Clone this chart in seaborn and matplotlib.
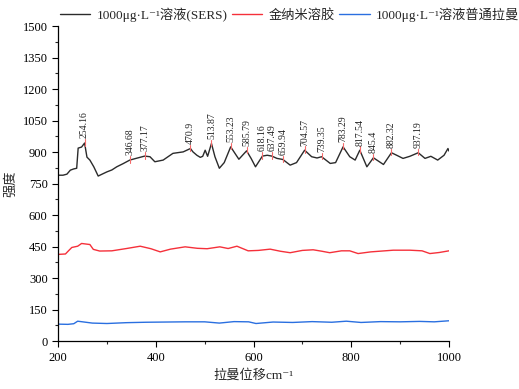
import pandas as pd
import numpy as np
import seaborn as sns
import matplotlib.pyplot as plt

# 数据
sers_x = [200, 210, 218, 225, 232, 238, 241, 248, 254.16, 259, 265, 273, 282, 290, 300, 310, 320, 333,
          346.68, 361, 377.17, 388, 398, 415, 435, 456, 470.9, 476, 484, 491, 496, 501, 506, 513.87, 521,
          530, 540, 553.23, 562, 570, 585.79, 595, 604, 618.16, 628, 637.49, 648, 659.94, 675, 688,
          704.57, 719, 730, 739.35, 757, 768, 783.29, 797, 808, 817.54, 832, 845.4, 866, 882.32, 893,
          906, 920, 937.19, 951, 963, 977, 990, 998, 1000]
sers_y = [790, 790, 795, 814, 820, 823, 919, 924, 943, 876, 862, 830, 786, 795, 806, 815, 830, 845,
          862, 871, 881, 878, 854, 862, 894, 901, 917, 901, 885, 875, 880, 909, 880, 941, 878,
          823, 850, 925, 894, 866, 906, 870, 830, 881, 885, 881, 870, 865, 838, 850,
          909, 878, 872, 878, 846, 850, 925, 878, 862, 909, 830, 873, 841, 897, 885,
          870, 880, 897, 870, 880, 862, 885, 917, 905]

gold_x = [200, 215, 222, 228, 240, 248, 265, 272, 285, 310, 340, 368, 390, 409, 430, 460, 485, 505,
          531, 548, 566, 589, 610, 634, 655, 675, 700, 722, 740, 756, 780, 797, 814, 840, 886, 920,
          945, 961, 980, 1000]
gold_y = [413, 415, 432, 446, 452, 465, 460, 437, 429, 430, 441, 452, 440, 425, 438, 449, 442, 440,
          449, 441, 452, 430, 432, 438, 428, 421, 432, 435, 428, 421, 430, 430, 417, 425, 433, 433,
          430, 417, 422, 430]

raman_x = [200, 220, 232, 240, 250, 270, 300, 340, 380, 420, 460, 500, 530, 560, 590, 605, 640, 680,
           720, 760, 790, 820, 860, 900, 940, 970, 1000]
raman_y = [81, 80, 83, 95, 92, 86, 84, 88, 90, 91, 92, 92, 86, 93, 92, 84, 91, 89,
           93, 90, 95, 89, 93, 92, 94, 92, 97]

peak_x = [254.16, 346.68, 377.17, 470.9, 513.87, 553.23, 585.79, 618.16, 637.49, 659.94,
          704.57, 739.35, 783.29, 817.54, 845.4, 882.32, 937.19]
peak_y = [943, 862, 881, 917, 941, 925, 906, 881, 881, 865, 909, 878, 925, 909, 873, 897, 897]
peak_labels = ['254.16', '346.68', '377.17', '470.9', '513.87', '553.23', '585.79', '618.16',
               '637.49', '659.94', '704.57', '739.35', '783.29', '817.54', '845.4', '882.32', '937.19']

sns.set_theme(style="ticks")
plt.rcParams['font.family'] = ['Liberation Serif', 'Noto Sans CJK SC', 'DejaVu Serif']
plt.rcParams['axes.unicode_minus'] = False

fig = plt.figure(figsize=(5.19, 3.89), dpi=100)
ax = fig.add_axes([0.112, 0.123, 0.753, 0.81])

df1 = pd.DataFrame({'x': sers_x, 'y': sers_y})
df2 = pd.DataFrame({'x': gold_x, 'y': gold_y})
df3 = pd.DataFrame({'x': raman_x, 'y': raman_y})
sns.lineplot(data=df1, x='x', y='y', ax=ax, color='#2b2b2b', lw=1, label='1000μg·L⁻¹溶液(SERS)')
sns.lineplot(data=df2, x='x', y='y', ax=ax, color='#f5303a', lw=1, label='金纳米溶胶')
sns.lineplot(data=df3, x='x', y='y', ax=ax, color='#2a6fe0', lw=1, label='1000μg·L⁻¹溶液普通拉曼')

# 峰位标注
for px, py, lab in zip(peak_x, peak_y, peak_labels):
    ax.plot([px, px], [py - 12, py + 18], color='#f46a6a', lw=0.8)
    ax.text(px, py + 22, lab, rotation=90, ha='center', va='bottom', fontsize=7, color='#222222')

ax.set_xlim(200, 1000)
ax.set_ylim(0, 1500)
ax.set_xticks(np.arange(200, 1001, 200))
ax.set_xticks(np.arange(200, 1001, 100), minor=True)
ax.set_yticks(np.arange(0, 1501, 150))
ax.set_yticks(np.arange(0, 1501, 75), minor=True)
ax.tick_params(axis='both', which='major', direction='out', length=4, width=0.8, labelsize=9, colors='black')
ax.tick_params(axis='both', which='minor', direction='out', length=2.5, width=0.8)
sns.despine(ax=ax)
for s in ['left', 'bottom']:
    ax.spines[s].set_color('black')
    ax.spines[s].set_linewidth(0.9)

ax.set_xlabel('拉曼位移cm⁻¹', fontsize=9.5)
ax.set_ylabel('强度', fontsize=9.5)

ax.legend(loc='lower left', bbox_to_anchor=(-0.005, 1.0), ncol=3, frameon=False, fontsize=9.5,
          handlelength=2.3, columnspacing=0.3, handletextpad=0.5, borderaxespad=0.3, borderpad=0)

fig.savefig('out.png', dpi=100)
